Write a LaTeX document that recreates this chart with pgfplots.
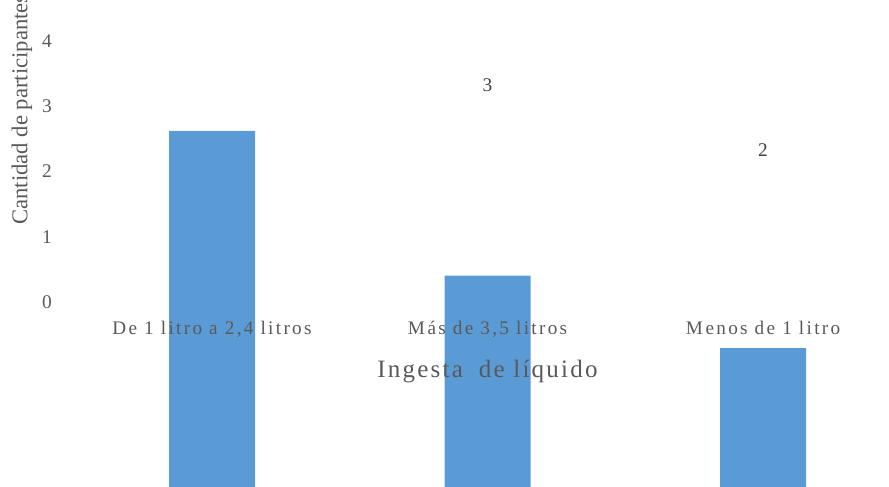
\documentclass[border=0pt]{standalone}
\usepackage{fontspec}
\setmainfont{Liberation Serif}
\newfontfamily\spacedfont[LetterSpace=9]{Liberation Serif}
\newfontfamily\widefont[LetterSpace=12]{Liberation Serif}
\usepackage{pgfplots}
\pgfplotsset{compat=1.18}
\definecolor{barblue}{HTML}{5B9BD5}
\definecolor{txtgray}{HTML}{595959}
\definecolor{lblgray}{HTML}{404040}

\begin{document}
\begin{tikzpicture}
\useasboundingbox (0,0) rectangle (666.75pt,364.5pt);

% columns: participants per intake category
\begin{axis}[
  at={(55.69pt,-5.18pt)}, anchor=south west,
  x=206.625pt, y=54.29pt,
  xmin=-0.5, xmax=2.5, ymin=0, ymax=5.5,
  hide axis, clip=false,
  ybar, bar width=64.5pt,
]
\addplot[fill=barblue, draw=none] coordinates {(0,5) (1,3) (2,2)};
\end{axis}

% value scale, category names, titles and value labels
\begin{axis}[
  at={(55.69pt,138pt)}, anchor=south west,
  x=206.625pt, y=48.94pt,
  xmin=-0.5, xmax=2.5, ymin=0, ymax=4,
  clip=false,
  axis line style={draw=none}, tick style={draw=none},
  /pgf/number format/assume math mode=true,
  xtick={0,1,2},
  xticklabels={{De 1 litro a 2,4 litros}, {M\kern2ptás de 3,5 litros}, {M\kern2ptenos de 1 litro}},
  xticklabel style={anchor=base, inner sep=0pt, yshift=-24pt,
    font=\widefont\fontsize{14.4pt}{17pt}\selectfont, text=txtgray},
  ytick={0,1,2,3,4},
  yticklabel style={anchor=east, inner sep=0pt, xshift=-16.7pt,
    font=\fontsize{14.5pt}{17pt}\selectfont, text=txtgray},
  xlabel={Ingesta\hspace{0.3em} de líquido},
  xlabel style={at={([yshift=-56.25pt]axis description cs:0.5,0)}, anchor=base,
    inner sep=0pt, font=\spacedfont\fontsize{18.75pt}{22pt}\selectfont, text=txtgray},
  ylabel={Cantidad de participantes},
  ylabel style={at={([xshift=-35.25pt]axis description cs:0,0.295)}, anchor=base west,
    rotate=0, inner sep=0pt, font=\fontsize{17pt}{20pt}\selectfont, text=txtgray},
]
% value labels of the columns whose label lies inside the chart area
\addplot[draw=none, mark=none, nodes near coords,
  every node near coord/.append style={anchor=center, yshift=15.75pt,
    font=\fontsize{14.5pt}{17pt}\selectfont, text=lblgray}]
  coordinates {(1,3) (2,2)};
\end{axis}
\end{tikzpicture}
\end{document}
